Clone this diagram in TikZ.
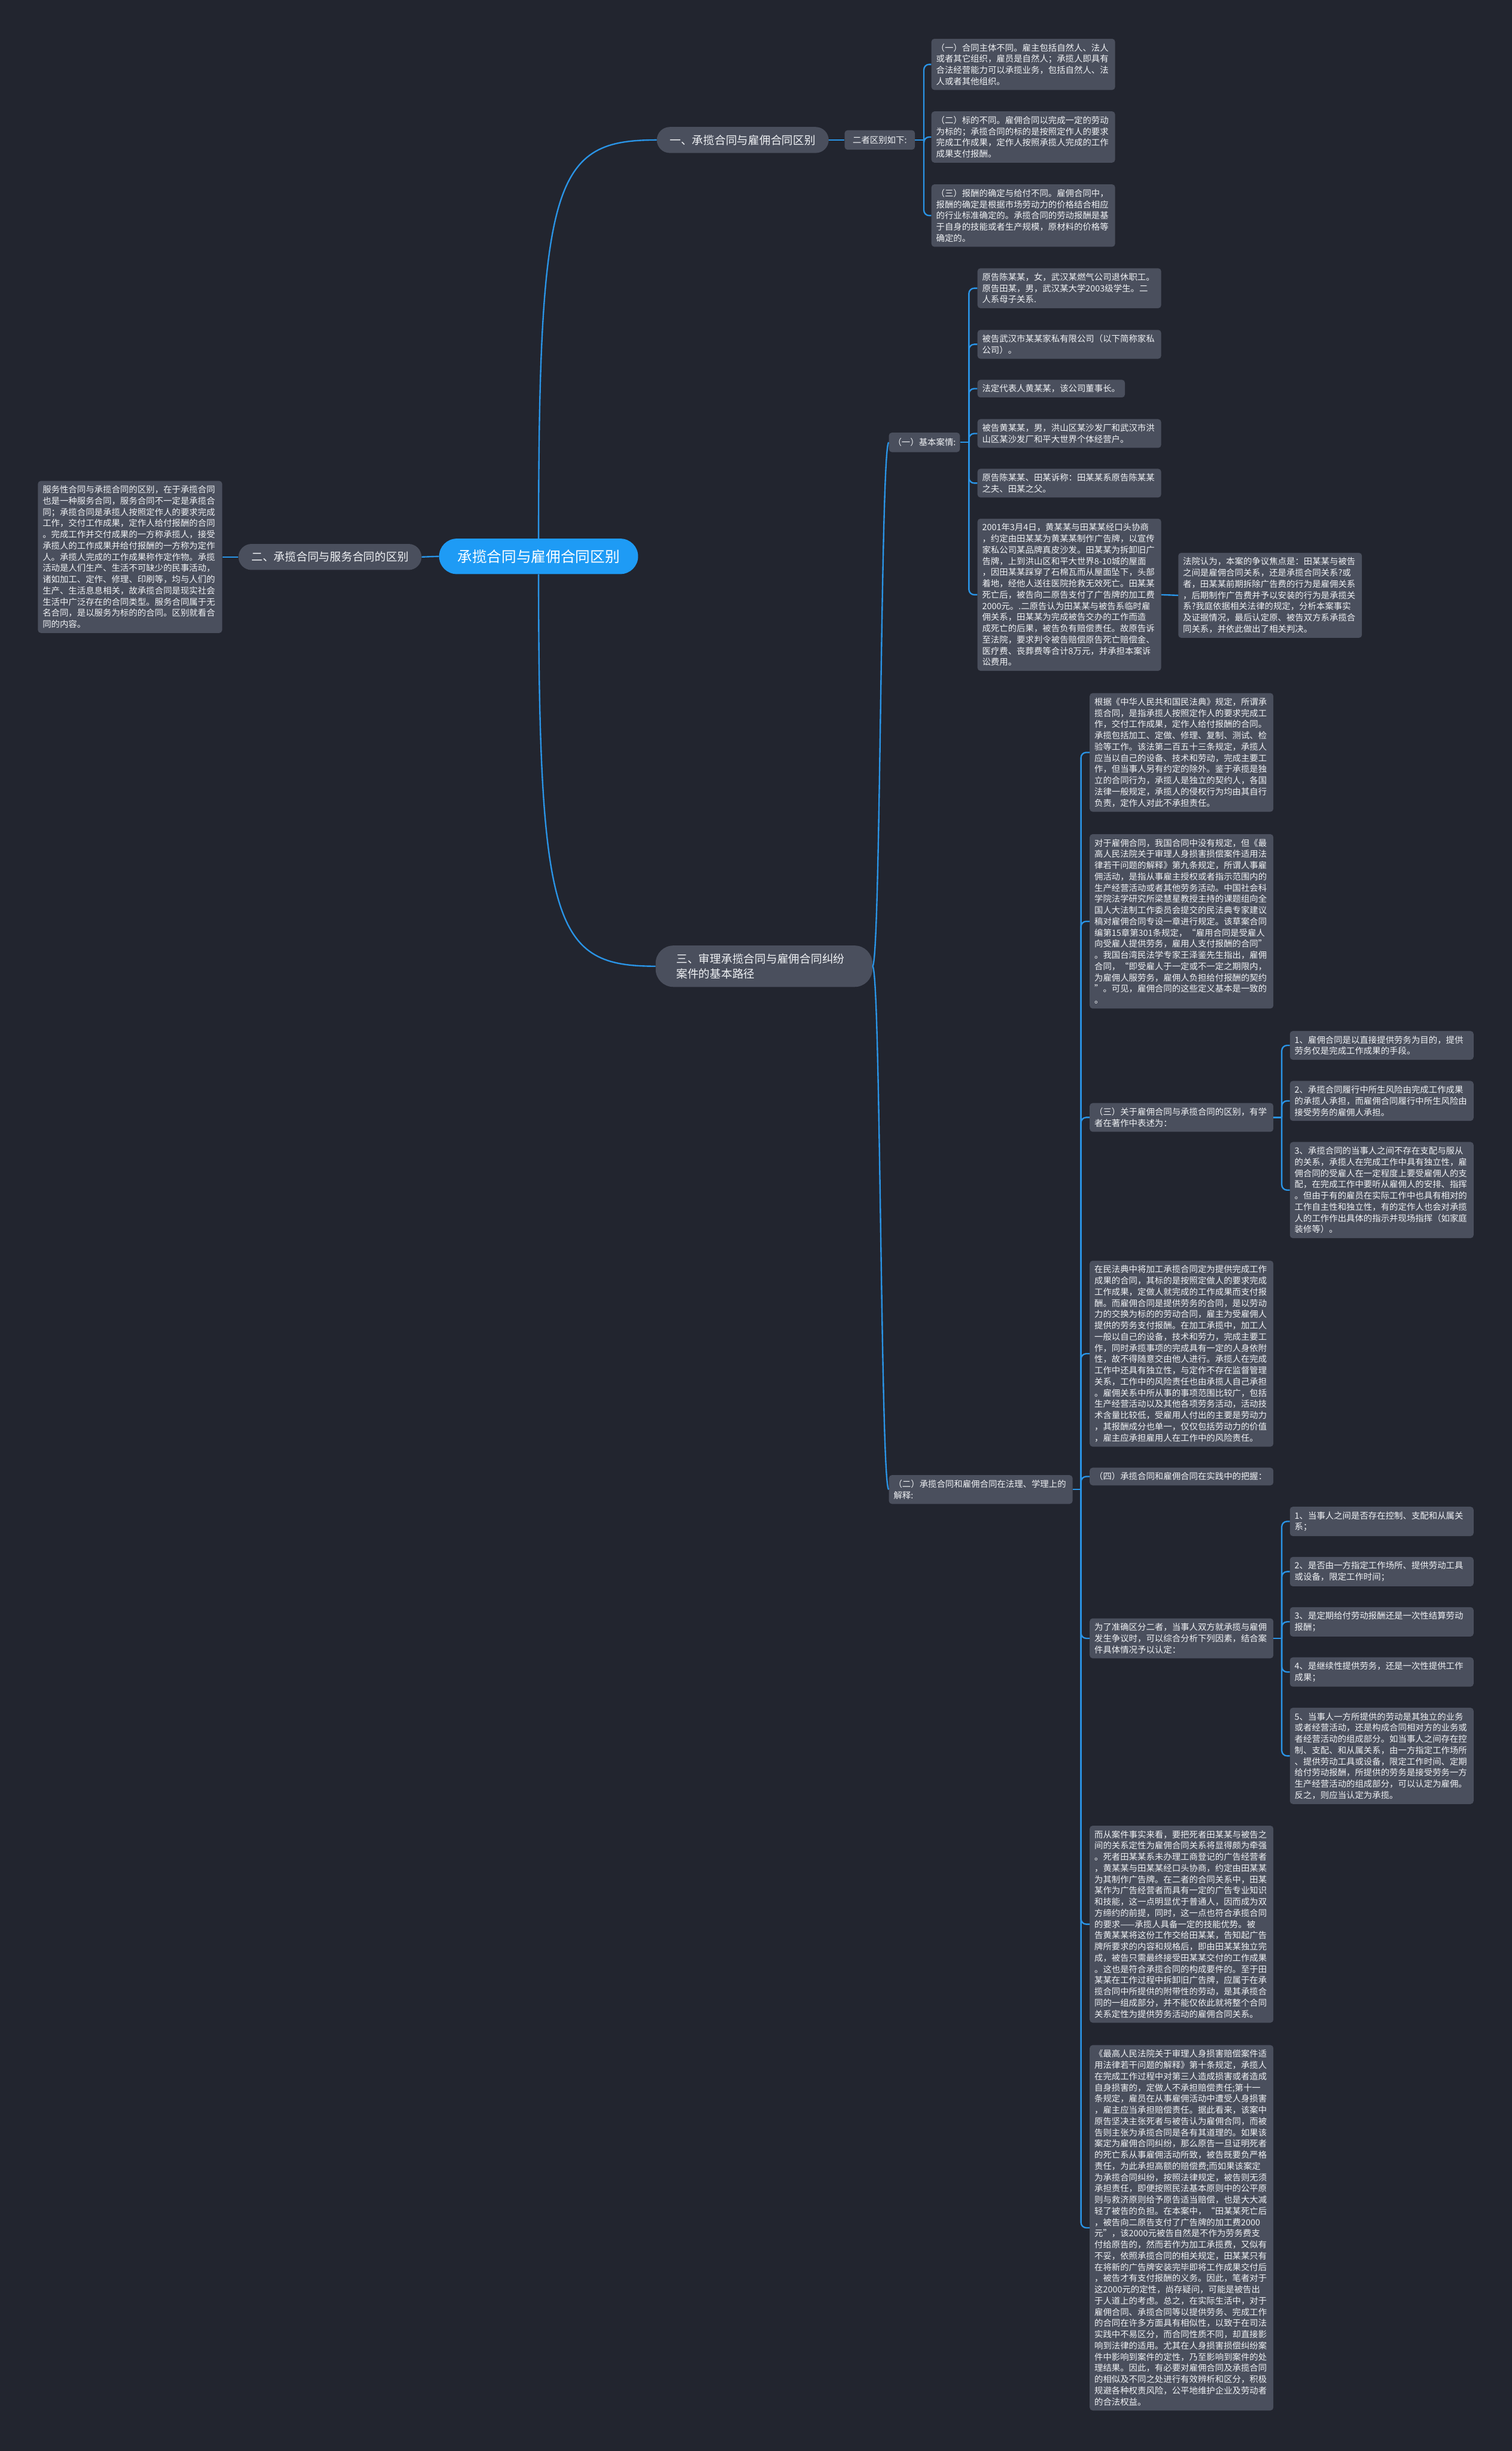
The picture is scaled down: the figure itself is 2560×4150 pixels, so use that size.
\documentclass[tikz,border=0pt]{standalone}
\usepackage{fontspec}
\setmainfont{Noto Sans CJK SC}
\usepackage{tikz}
\definecolor{bgdark}{RGB}{34, 37, 47}
\definecolor{boxgrey}{RGB}{74, 79, 93}
\definecolor{linkblue}{RGB}{42, 148, 230}
\definecolor{rootblue}{RGB}{30, 155, 245}
\definecolor{txt}{RGB}{240, 242, 245}
\newcommand{\leaffont}{\fontsize{14.6pt}{19pt}\selectfont}
\newcommand{\branchfont}{\fontsize{19pt}{26pt}\selectfont}
\tikzset{
  tag/.style={fill=boxgrey, rounded corners=5pt, text=txt, font=\leaffont, align=left, inner xsep=8pt, inner ysep=8pt, anchor=west},
  leaf/.style={tag, text width=295pt},
  branch/.style={fill=boxgrey, rounded corners=22pt, text=txt, font=\branchfont, inner xsep=22pt, minimum height=44pt},
  rootnode/.style={fill=rootblue, rounded corners=30pt, text=white, font=\fontsize{25pt}{30pt}\selectfont, inner xsep=31pt, minimum height=60pt},
  conn/.style={draw=linkblue, line width=2.4pt},
  elbow/.style={conn, rounded corners=9pt}
}

\begin{document}
\begin{tikzpicture}[x=1pt, y=-1pt]
\fill[bgdark] (0,0) rectangle (2560,4150);
\useasboundingbox (0,0) rectangle (2560,4150);

\node[rootnode] (root) at (912,942) {承揽合同与雇佣合同区别};

\node[branch, anchor=west] (b1) at (1112,237) {一、承揽合同与雇佣合同区别};
\node[branch, anchor=east] (b2) at (714,943) {二、承揽合同与服务合同的区别};
\node[branch, anchor=west, align=left, rounded corners=30pt, inner xsep=35pt, minimum height=70pt, text width=297pt] (b3) at (1110,1636) {三、审理承揽合同与雇佣合同纠纷\\案件的基本路径};

\draw[conn] (root.north) .. controls +(0,-611) and +(-172,0) .. (b1.west);
\draw[conn] (root.south) .. controls +(0,600) and +(-170,0) .. (b3.west);
\draw[conn] (root.west) -- (b2.east);

% 一
\node[tag, minimum width=119pt, minimum height=33pt] (bd) at (1430,237) {二者区别如下:};
\draw[conn] (b1.east) -- (bd.west);
\node[leaf] (a1) at (1577,109) {（一）合同主体不同。雇主包括自然人、法人\\或者其它组织，雇员是自然人；承揽人即具有\\合法经营能力可以承揽业务，包括自然人、法\\人或者其他组织。};
\node[leaf] (a2) at (1577,232) {（二）标的不同。雇佣合同以完成一定的劳动\\为标的；承揽合同的标的是按照定作人的要求\\完成工作成果，定作人按照承揽人完成的工作\\成果支付报酬。};
\node[leaf] (a3) at (1577,365) {（三）报酬的确定与给付不同。雇佣合同中，\\报酬的确定是根据市场劳动力的价格结合相应\\的行业标准确定的。承揽合同的劳动报酬是基\\于自身的技能或者生产规模，原材料的价格等\\确定的。};
\draw[conn] (bd.east) -- ++(15,0) coordinate (ta);
\foreach \n in {a1,a2,a3} \draw[elbow] (ta) |- (\n.west);

% 二
\node[tag, text width=296pt] (L) at (64,943) {服务性合同与承揽合同的区别，在于承揽合同\\也是一种服务合同，服务合同不一定是承揽合\\同；承揽合同是承揽人按照定作人的要求完成\\工作，交付工作成果，定作人给付报酬的合同\\。完成工作并交付成果的一方称承揽人，接受\\承揽人的工作成果并给付报酬的一方称为定作\\人。承揽人完成的工作成果称作定作物。承揽\\活动是人们生产、生活不可缺少的民事活动，\\诸如加工、定作、修理、印刷等，均与人们的\\生产、生活息息相关，故承揽合同是现实社会\\生活中广泛存在的合同类型。服务合同属于无\\名合同，是以服务为标的的合同。区别就看合\\同的内容。};
\draw[conn] (b2.west) -- (L.east);

% 三
\node[tag, inner xsep=7pt, minimum height=33pt] (s1) at (1505,749) {（一）基本案情:};
\node[leaf] (s2) at (1505,2522) {（二）承揽合同和雇佣合同在法理、学理上的\\解释:};
\draw[conn] (b3.east) .. controls +(14,0) and +(-14,0) .. (s1.west);
\draw[conn] (b3.east) .. controls +(14,0) and +(-14,0) .. (s2.west);

\node[leaf] (c1) at (1655,488) {原告陈某某，女，武汉某燃气公司退休职工。\\原告田某，男，武汉某大学2003级学生。二\\人系母子关系.};
\node[leaf] (c2) at (1655,583) {被告武汉市某某家私有限公司（以下简称家私\\公司）。};
\node[tag] (c3) at (1655,658) {法定代表人黄某某，该公司董事长。};
\node[leaf] (c4) at (1655,734) {被告黄某某，男，洪山区某沙发厂和武汉市洪\\山区某沙发厂和平大世界个体经营户。};
\node[leaf] (c5) at (1655,818) {原告陈某某、田某诉称：田某某系原告陈某某\\之夫、田某之父。};
\node[leaf] (c6) at (1655,1007) {2001年3月4日，黄某某与田某某经口头协商\\，约定由田某某为黄某某制作广告牌，以宣传\\家私公司某品牌真皮沙发。田某某为拆卸旧广\\告牌，上到洪山区和平大世界8-10城的屋面\\，因田某某踩穿了石棉瓦而从屋面坠下，头部\\着地，经他人送往医院抢救无效死亡。田某某\\死亡后，被告向二原告支付了广告牌的加工费\\2000元。.二原告认为田某某与被告系临时雇\\佣关系，田某某为完成被告交办的工作而造\\成死亡的后果，被告负有赔偿责任。故原告诉\\至法院，要求判令被告赔偿原告死亡赔偿金、\\医疗费、丧葬费等合计8万元，并承担本案诉\\讼费用。};
\node[leaf] (c7) at (1995,1008) {法院认为，本案的争议焦点是：田某某与被告\\之间是雇佣合同关系，还是承揽合同关系?或\\者，田某某前期拆除广告费的行为是雇佣关系\\，后期制作广告费并予以安装的行为是承揽关\\系?我庭依据相关法律的规定，分析本案事实\\及证据情况，最后认定原、被告双方系承揽合\\同关系，并依此做出了相关判决。};
\draw[conn] (s1.east) -- ++(15,0) coordinate (tc);
\foreach \n in {c1,c2,c3,c4,c5,c6} \draw[elbow] (tc) |- (\n.west);
\draw[conn] (c6.east) -- (c7.west);

\node[leaf] (d1) at (1845,1274) {根据《中华人民共和国民法典》规定，所谓承\\揽合同，是指承揽人按照定作人的要求完成工\\作，交付工作成果，定作人给付报酬的合同。\\承揽包括加工、定做、修理、复制、测试、检\\验等工作。该法第二百五十三条规定，承揽人\\应当以自己的设备、技术和劳动，完成主要工\\作，但当事人另有约定的除外。鉴于承揽是独\\立的合同行为，承揽人是独立的契约人，各国\\法律一般规定，承揽人的侵权行为均由其自行\\负责，定作人对此不承担责任。};
\node[leaf] (d2) at (1845,1560) {对于雇佣合同，我国合同中没有规定，但《最\\高人民法院关于审理人身损害损偿案件适用法\\律若干问题的解释》第九条规定，所谓人事雇\\佣活动，是指从事雇主授权或者指示范围内的\\生产经营活动或者其他劳务活动。中国社会科\\学院法学研究所梁慧星教授主持的课题组向全\\国人大法制工作委员会提交的民法典专家建议\\稿对雇佣合同专设一章进行规定。该草案合同\\编第15章第301条规定，“雇用合同是受雇人\\向受雇人提供劳务，雇用人支付报酬的合同”\\。我国台湾民法学专家王泽鉴先生指出，雇佣\\合同，“即受雇人于一定或不一定之期限内，\\为雇佣人服劳务，雇佣人负担给付报酬的契约\\”。可见，雇佣合同的这些定义基本是一致的\\。};
\node[leaf] (d3) at (1845,1892) {（三）关于雇佣合同与承揽合同的区别，有学\\者在著作中表述为：};
\node[leaf] (d4) at (1845,2292) {在民法典中将加工承揽合同定为提供完成工作\\成果的合同，其标的是按照定做人的要求完成\\工作成果，定做人就完成的工作成果而支付报\\酬。而雇佣合同是提供劳务的合同，是以劳动\\力的交换为标的的劳动合同，雇主为受雇佣人\\提供的劳务支付报酬。在加工承揽中，加工人\\一般以自己的设备，技术和劳力，完成主要工\\作，同时承揽事项的完成具有一定的人身依附\\性，故不得随意交由他人进行。承揽人在完成\\工作中还具有独立性，与定作不存在监督管理\\关系，工作中的风险责任也由承揽人自己承担\\。雇佣关系中所从事的事项范围比较广，包括\\生产经营活动以及其他各项劳务活动，活动技\\术含量比较低，受雇用人付出的主要是劳动力\\，其报酬成分也单一，仅仅包括劳动力的价值\\，雇主应承担雇用人在工作中的风险责任。};
\node[leaf] (d5) at (1845,2500) {（四）承揽合同和雇佣合同在实践中的把握：};
\node[leaf] (d6) at (1845,2774) {为了准确区分二者，当事人双方就承揽与雇佣\\发生争议时，可以综合分析下列因素，结合案\\件具体情况予以认定：};
\node[leaf] (d7) at (1845,3258) {而从案件事实来看，要把死者田某某与被告之\\间的关系定性为雇佣合同关系将显得颇为牵强\\。死者田某某系未办理工商登记的广告经营者\\，黄某某与田某某经口头协商，约定由田某某\\为其制作广告牌。在二者的合同关系中，田某\\某作为广告经营者而具有一定的广告专业知识\\和技能，这一点明显优于普通人，因而成为双\\方缔约的前提，同时，这一点也符合承揽合同\\的要求——承揽人具备一定的技能优势。被\\告黄某某将这份工作交给田某某，告知起广告\\牌所要求的内容和规格后，即由田某某独立完\\成，被告只需最终接受田某某交付的工作成果\\。这也是符合承揽合同的构成要件的。至于田\\某某在工作过程中拆卸旧广告牌，应属于在承\\揽合同中所提供的附带性的劳动，是其承揽合\\同的一组成部分，并不能仅依此就将整个合同\\关系定性为提供劳务活动的雇佣合同关系。};
\node[leaf] (d8) at (1845,3772) {《最高人民法院关于审理人身损害赔偿案件适\\用法律若干问题的解释》第十条规定，承揽人\\在完成工作过程中对第三人造成损害或者造成\\自身损害的，定做人不承担赔偿责任;第十一\\条规定，雇员在从事雇佣活动中遭受人身损害\\，雇主应当承担赔偿责任。据此看来，该案中\\原告坚决主张死者与被告认为雇佣合同，而被\\告则主张为承揽合同是各有其道理的。如果该\\案定为雇佣合同纠纷，那么原告一旦证明死者\\的死亡系从事雇佣活动所致，被告既要负严格\\责任，为此承担高额的赔偿费;而如果该案定\\为承揽合同纠纷，按照法律规定，被告则无须\\承担责任，即便按照民法基本原则中的公平原\\则与救济原则给予原告适当赔偿，也是大大减\\轻了被告的负担。在本案中，“田某某死亡后\\，被告向二原告支付了广告牌的加工费2000\\元”，该2000元被告自然是不作为劳务费支\\付给原告的，然而若作为加工承揽费，又似有\\不妥，依照承揽合同的相关规定，田某某只有\\在将新的广告牌安装完毕即将工作成果交付后\\，被告才有支付报酬的义务。因此，笔者对于\\这2000元的定性，尚存疑问，可能是被告出\\于人道上的考虑。总之，在实际生活中，对于\\雇佣合同、承揽合同等以提供劳务、完成工作\\的合同在许多方面具有相似性，以致于在司法\\实践中不易区分，而合同性质不同，却直接影\\响到法律的适用。尤其在人身损害损偿纠纷案\\件中影响到案件的定性，乃至影响到案件的处\\理结果。因此，有必要对雇佣合同及承揽合同\\的相似及不同之处进行有效辨析和区分，积极\\规避各种权责风险，公平地维护企业及劳动者\\的合法权益。};
\draw[conn] (s2.east) -- ++(14,0) coordinate (td);
\foreach \n in {d1,d2,d3,d4,d5,d6,d7,d8} \draw[elbow] (td) |- (\n.west);

\node[leaf] (e1) at (2184,1770) {1、雇佣合同是以直接提供劳务为目的，提供\\劳务仅是完成工作成果的手段。};
\node[leaf] (e2) at (2184,1864) {2、承揽合同履行中所生风险由完成工作成果\\的承揽人承担，而雇佣合同履行中所生风险由\\接受劳务的雇佣人承担。};
\node[leaf] (e3) at (2184,2015) {3、承揽合同的当事人之间不存在支配与服从\\的关系，承揽人在完成工作中具有独立性，雇\\佣合同的受雇人在一定程度上要受雇佣人的支\\配，在完成工作中要听从雇佣人的安排、指挥\\。但由于有的雇员在实际工作中也具有相对的\\工作自主性和独立性，有的定作人也会对承揽\\人的工作作出具体的指示并现场指挥（如家庭\\装修等）。};
\draw[conn] (d3.east) -- ++(14,0) coordinate (te);
\foreach \n in {e1,e2,e3} \draw[elbow] (te) |- (\n.west);

\node[leaf] (f1) at (2184,2576) {1、当事人之间是否存在控制、支配和从属关\\系；};
\node[leaf] (f2) at (2184,2661) {2、是否由一方指定工作场所、提供劳动工具\\或设备，限定工作时间；};
\node[leaf] (f3) at (2184,2746) {3、是定期给付劳动报酬还是一次性结算劳动\\报酬；};
\node[leaf] (f4) at (2184,2831) {4、是继续性提供劳务，还是一次性提供工作\\成果；};
\node[leaf] (f5) at (2184,2973) {5、当事人一方所提供的劳动是其独立的业务\\或者经营活动，还是构成合同相对方的业务或\\者经营活动的组成部分。如当事人之间存在控\\制、支配、和从属关系，由一方指定工作场所\\、提供劳动工具或设备，限定工作时间、定期\\给付劳动报酬，所提供的劳务是接受劳务一方\\生产经营活动的组成部分，可以认定为雇佣。\\反之，则应当认定为承揽。};
\draw[conn] (d6.east) -- ++(14,0) coordinate (tf);
\foreach \n in {f1,f2,f3,f4,f5} \draw[elbow] (tf) |- (\n.west);
\end{tikzpicture}
\end{document}
